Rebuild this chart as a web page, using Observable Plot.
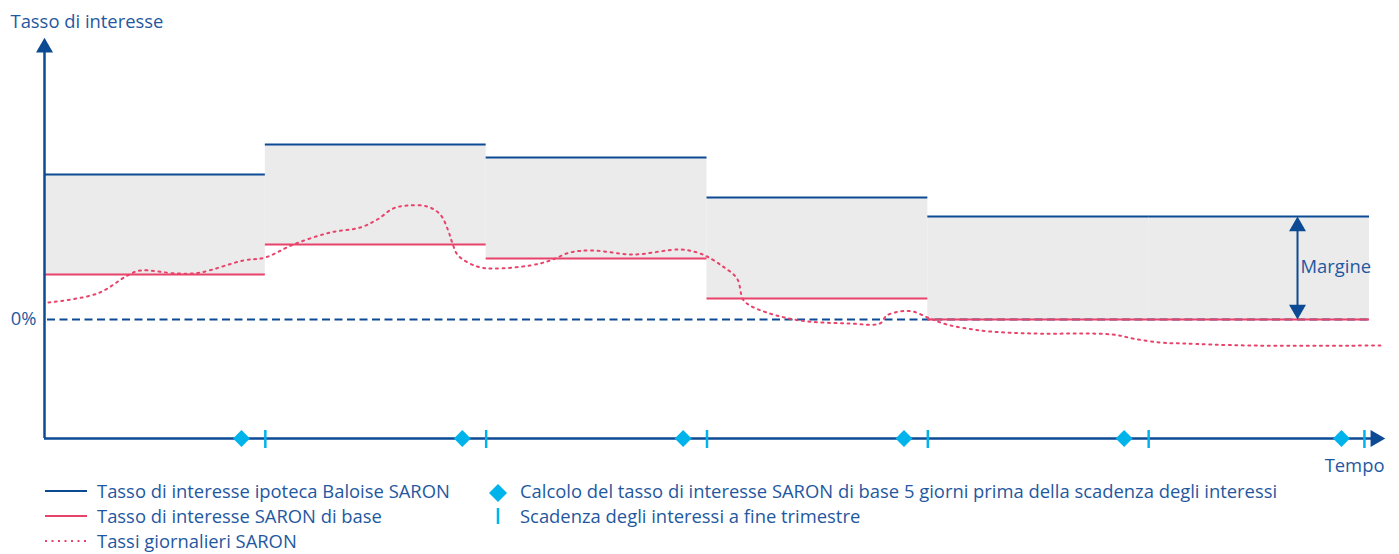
<!DOCTYPE html>
<html>
<head>
<meta charset="utf-8">
<script src="https://cdn.jsdelivr.net/npm/d3@7"></script>
<script src="https://cdn.jsdelivr.net/npm/@observablehq/plot@0.6"></script>
<style>
  html, body { margin: 0; padding: 0; background: #fff; }
  body { width: 1399px; height: 554px; overflow: hidden; position: relative; font-family: "Open Sans", "Noto Sans", sans-serif; }
  #chart { position: absolute; left: 0; top: 0; }
  .lg { position: absolute; font-size: 18.4px; color: #1f58a0; white-space: nowrap; line-height: 20px; }
  .sw { position: absolute; }
</style>
</head>
<body>
<div id="chart"></div>
<div id="legend"></div>
<script>
// ---- data (x in quarters, y in % units) ----
const quarters = [0, 1, 2, 3, 4, 5];            // start of each quarter
const baloiseRate = [1.45, 1.75, 1.62, 1.22, 1.03, 1.03]; // Tasso ipoteca Baloise SARON
const baseRate = [0.45, 0.75, 0.61, 0.21, 0.0, 0.0];      // Tasso SARON di base
const dueDates = [1, 2, 3, 4, 5, 5.977];                  // Scadenza interessi
const calcDates = [0.892, 1.892, 2.892, 3.892, 4.889, 5.873]; // 5 giorni prima
const dailyX = [0.018, 0.24, 0.376, 0.434, 0.60, 0.706, 0.90, 1.0, 1.127, 1.294, 1.43, 1.507, 1.579, 1.643, 1.733, 1.792, 1.828, 1.846, 1.873, 1.959, 2.032, 2.199, 2.29, 2.38, 2.484, 2.665, 2.878, 2.955, 3.0, 3.072, 3.136, 3.163, 3.195, 3.27, 3.42, 3.647, 3.783, 3.814, 3.873, 3.932, 4.009, 4.086, 4.176, 4.281, 4.475, 4.837, 4.928, 5.05, 5.154, 5.457, 6.068];
const dailyY = [0.17, 0.26, 0.44, 0.49, 0.46, 0.47, 0.59, 0.62, 0.75, 0.87, 0.92, 1.00, 1.11, 1.14, 1.13, 1.05, 0.89, 0.77, 0.64, 0.53, 0.51, 0.54, 0.59, 0.67, 0.69, 0.65, 0.70, 0.67, 0.63, 0.53, 0.41, 0.20, 0.14, 0.07, -0.01, -0.04, -0.04, 0.04, 0.08, 0.08, 0.01, -0.05, -0.09, -0.12, -0.14, -0.15, -0.19, -0.23, -0.24, -0.26, -0.26];
const yLabel = "Tasso di interesse";
const xLabel = "Tempo";
const zeroLabel = "0%";
const marginLabel = "Margine";
const marginX = 5.674;
const legendLeft = ["Tasso di interesse ipoteca Baloise SARON", "Tasso di interesse SARON di base", "Tassi giornalieri SARON"];
const legendRight = ["Calcolo del tasso di interesse SARON di base 5 giorni prima della scadenza degli interessi", "Scadenza degli interessi a fine trimestre"];

// ---- styles ----
const BLUE = "#0d4a94", RED = "#e8436a", CYAN = "#00b4eb", GRAY = "#ebebeb", TEXT = "#1f58a0";
const FONT = '"Open Sans", "Noto Sans", sans-serif';

const periods = quarters.map((q, i) => ({x1: q, x2: q + 1, base: baseRate[i], bal: baloiseRate[i]}));
const daily = dailyX.map((x, i) => ({x, y: dailyY[i]}));
const lastQ = periods[periods.length - 1];

const xMin = 0, xMax = 6, yMin = -1.19, yMax = 2.82;
const axisTop = 2.72;      // centroid of the y arrow head
const axisRight = 6.027;   // centroid of the x arrow head

const tri = {draw(ctx, size) { const s = Math.sqrt(size / (Math.sqrt(3) / 4)); const h = s * Math.sqrt(3) / 2; ctx.moveTo(0, -2 * h / 3); ctx.lineTo(s / 2, h / 3); ctx.lineTo(-s / 2, h / 3); ctx.closePath(); }};
const triDown = {draw(ctx, size) { const s = Math.sqrt(size / (Math.sqrt(3) / 4)); const h = s * Math.sqrt(3) / 2; ctx.moveTo(0, 2 * h / 3); ctx.lineTo(s / 2, -h / 3); ctx.lineTo(-s / 2, -h / 3); ctx.closePath(); }};
const triRight = {draw(ctx, size) { const s = Math.sqrt(size / (Math.sqrt(3) / 4)); const h = s * Math.sqrt(3) / 2; ctx.moveTo(2 * h / 3, 0); ctx.lineTo(-h / 3, s / 2); ctx.lineTo(-h / 3, -s / 2); ctx.closePath(); }};

const plot = Plot.plot({
  width: 1399,
  height: 470,
  marginLeft: 44,
  marginRight: 30,
  marginTop: 37,
  marginBottom: 32,
  x: {domain: [xMin, xMax], axis: null},
  y: {domain: [yMin, yMax], axis: null},
  style: {fontFamily: FONT, background: "transparent", overflow: "visible"},
  marks: [
    Plot.rectY(periods, {x1: "x1", x2: "x2", y1: "base", y2: "bal", fill: GRAY}),
    Plot.ruleY([0], {x1: xMin, x2: xMax, stroke: BLUE, strokeWidth: 2, strokeDasharray: "8,4.5", strokeDashoffset: -3}),
    Plot.ruleY(periods, {y: "bal", x1: "x1", x2: "x2", stroke: BLUE, strokeWidth: 2}),
    Plot.ruleY(periods, {y: "base", x1: "x1", x2: "x2", stroke: RED, strokeWidth: 2}),
    Plot.line(daily, {x: "x", y: "y", curve: "catmull-rom", stroke: RED, strokeWidth: 2, strokeDasharray: "2,4.5"}),
    // Margine arrow
    Plot.ruleX([marginX], {y1: lastQ.base + 0.1, y2: lastQ.bal - 0.1, stroke: BLUE, strokeWidth: 2}),
    Plot.dot([{x: marginX, y: lastQ.bal}], {x: "x", y: "y", symbol: tri, r: 6.3, fill: BLUE, dy: 9.8}),
    Plot.dot([{x: marginX, y: lastQ.base}], {x: "x", y: "y", symbol: triDown, r: 6.3, fill: BLUE, dy: -9.8}),
    Plot.text([marginLabel], {x: marginX, y: (lastQ.base + lastQ.bal) / 2 + 0.01, text: d => d, textAnchor: "start", dx: 3, fill: TEXT, fontSize: 18.4}),
    // axes
    Plot.ruleX([xMin], {y1: yMin, y2: axisTop, stroke: BLUE, strokeWidth: 2.5}),
    Plot.dot([{x: xMin, y: axisTop}], {x: "x", y: "y", symbol: tri, r: 6.3, fill: BLUE}),
    Plot.ruleY([yMin], {x1: xMin, x2: axisRight, stroke: BLUE, strokeWidth: 2.5}),
    Plot.dot([{x: axisRight, y: yMin}], {x: "x", y: "y", symbol: triRight, r: 6.3, fill: BLUE}),
    Plot.ruleX(dueDates, {y1: yMin + 0.08, y2: yMin - 0.10, stroke: CYAN, strokeWidth: 2.5}),
    Plot.dot(calcDates, {x: d => d, y: yMin, symbol: "diamond2", r: 7.6, fill: CYAN}),
    // labels
    Plot.text([yLabel], {x: xMin, y: yMax, text: d => d, textAnchor: "start", dx: -34, dy: -15, fill: TEXT, fontSize: 18.4}),
    Plot.text([zeroLabel], {x: xMin, y: 0, text: d => d, textAnchor: "end", dx: -8, fill: TEXT, fontSize: 18.4}),
    Plot.text([xLabel], {x: axisRight, y: yMin, text: d => d, textAnchor: "end", dx: 9, dy: 28, fill: TEXT, fontSize: 18.4})
  ]
});
document.getElementById("chart").append(plot);

// ---- legend ----
const lg = document.getElementById("legend");
const rowsY = [481, 506, 531];
function swatch(left, top, svg) { const d = document.createElement("div"); d.className = "sw"; d.style.left = left + "px"; d.style.top = top + "px"; d.innerHTML = svg; lg.append(d); }
function label(left, top, txt) { const d = document.createElement("div"); d.className = "lg"; d.style.left = left + "px"; d.style.top = top + "px"; d.textContent = txt; lg.append(d); }
const leftSw = [
  `<svg width="44" height="20"><line x1="1" x2="43" y1="10" y2="10" stroke="${BLUE}" stroke-width="2"/></svg>`,
  `<svg width="44" height="20"><line x1="1" x2="43" y1="10" y2="10" stroke="${RED}" stroke-width="2"/></svg>`,
  `<svg width="44" height="20"><line x1="1" x2="43" y1="10" y2="10" stroke="${RED}" stroke-width="2" stroke-dasharray="2,4.5"/></svg>`
];
legendLeft.forEach((t, i) => { swatch(44, rowsY[i], leftSw[i]); label(97, rowsY[i], t); });
const rightSw = [
  `<svg width="20" height="20"><path d="M10,1 L19,10 L10,19 L1,10 Z" fill="${CYAN}"/></svg>`,
  `<svg width="20" height="20"><line x1="10" x2="10" y1="2" y2="18" stroke="${CYAN}" stroke-width="2.5"/></svg>`
];
legendRight.forEach((t, i) => { swatch(488, rowsY[i] + (i === 0 ? 2 : 0), rightSw[i]); label(520, rowsY[i], t); });
</script>
</body>
</html>
